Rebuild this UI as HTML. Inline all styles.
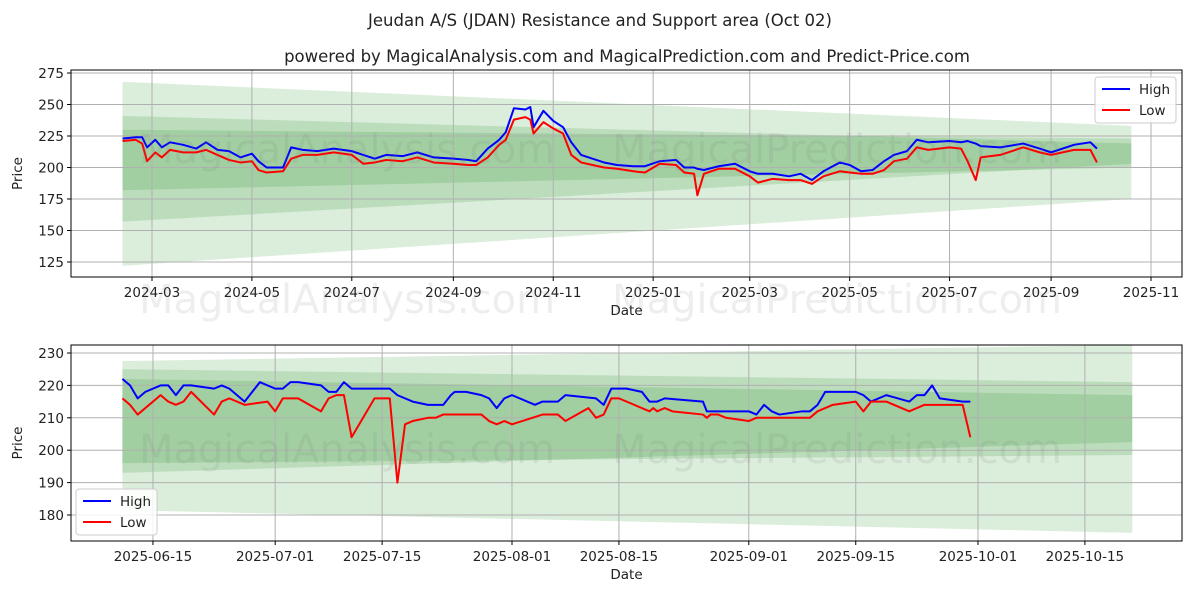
<!DOCTYPE html>
<html><head><meta charset="utf-8"><style>
body{margin:0;background:#fff}
text{font-family:"DejaVu Sans","Liberation Sans",sans-serif}
</style></head><body>
<svg id="chart" width="1200" height="600" xmlns="http://www.w3.org/2000/svg"></svg>
<script>
// ---- top chart data ----
const topDates=["2024-02-12","2024-02-20","2024-02-24","2024-02-27","2024-03-03","2024-03-07","2024-03-12","2024-03-20","2024-03-28","2024-04-03","2024-04-10","2024-04-17","2024-04-24","2024-05-01","2024-05-05","2024-05-10","2024-05-20","2024-05-25","2024-06-01","2024-06-10","2024-06-20","2024-07-01","2024-07-08","2024-07-15","2024-07-22","2024-08-01","2024-08-10","2024-08-20","2024-09-01","2024-09-10","2024-09-15","2024-09-22","2024-09-29","2024-10-03","2024-10-08","2024-10-15","2024-10-18","2024-10-20","2024-10-26","2024-11-01","2024-11-07","2024-11-12","2024-11-18","2024-11-25","2024-12-02","2024-12-10","2024-12-20","2024-12-27","2025-01-05","2025-01-15","2025-01-20","2025-01-26","2025-01-28","2025-02-01","2025-02-10","2025-02-20","2025-03-01","2025-03-06","2025-03-15","2025-03-25","2025-04-01","2025-04-08","2025-04-15","2025-04-25","2025-05-01","2025-05-08","2025-05-15","2025-05-22","2025-05-28","2025-06-05","2025-06-11","2025-06-18","2025-07-01","2025-07-08","2025-07-12","2025-07-17","2025-07-20","2025-08-01","2025-08-15","2025-08-25","2025-09-01","2025-09-15","2025-09-25","2025-09-29"];
const topHigh=[223,224,224,216,222,216,220,218,215,220,214,213,208,211,205,200,200,216,214,213,215,213,210,207,210,209,212,208,207,206,205,215,222,228,247,246,248,232,245,237,232,220,210,207,204,202,201,201,205,206,200,200,199,198,201,203,197,195,195,193,195,190,197,204,202,197,198,205,210,213,222,220,221,220,221,219,217,216,219,215,212,218,220,215];
const topLow=[221,222,219,205,212,208,214,212,212,214,210,206,204,205,198,196,197,207,210,210,212,210,203,204,206,205,208,204,203,202,202,208,218,222,238,240,238,227,236,231,227,210,204,202,200,199,197,196,203,202,196,195,178,195,199,199,193,188,191,190,190,187,193,197,196,195,195,198,205,207,216,214,216,215,205,190,208,210,216,212,210,214,214,204];
const topTicks=[125,150,175,200,225,250,275];
const topXTicks=["2024-03","2024-05","2024-07","2024-09","2024-11","2025-01","2025-03","2025-05","2025-07","2025-09","2025-11"];
const topBandStart="2024-02-12", topBandEnd="2025-10-20";
const topBands=[[268,122,233,175],[241,157,219,203],[230,182,223,200]];
// ---- bottom chart data ----
const botStart="2025-06-11";
const botHighDays=[0,1,2,3,5,6,7,8,9,12,13,14,15,16,18,20,21,22,23,26,27,28,29,30,35,36,37,38,40,42,43,43.5,45,47,48,49,50,51,54,55,57,58,62,63,64,66,68,69,70,71,76,76.5,82,83,84,85,86,89,90,91,92,96,97,98,100,103,104,105,106,107,110,111];
const botHigh=[222,220,216,218,220,220,217,220,220,219,220,219,217,215,221,219,219,221,221,220,218,218,221,219,219,217,216,215,214,214,217,218,218,217,216,213,216,217,214,215,215,217,216,214,219,219,218,215,215,216,215,212,212,211,214,212,211,212,212,214,218,218,217,215,217,215,217,217,220,216,215,215];
const botLowDays=[0,1,2,5,6,7,8,9,12,13,14,16,19,20,21,23,26,27,28,29,30,33,35,36,37,38,40,41,42,47,48,49,50,51,55,57,58,61,62,63,64,65,69,69.5,70,71,72,76,76.5,77,78,79,82,83,90,91,93,96,97,98,100,103,105,110,111];
const botLow=[216,214,211,217,215,214,215,218,211,215,216,214,215,212,216,216,212,216,217,217,204,216,216,190,208,209,210,210,211,211,209,208,209,208,211,211,209,213,210,211,216,216,212,213,212,213,212,211,210,211,211,210,209,210,210,212,214,215,212,215,215,212,214,214,204];
const botTicks=[180,190,200,210,220,230];
const botXTicks=["2025-06-15","2025-07-01","2025-07-15","2025-08-01","2025-08-15","2025-09-01","2025-09-15","2025-10-01","2025-10-15"];
const botBandEndDays=132.2;
const botBands=[[227.5,181.5,232.5,174.5],[222,193,217,202.5],[225,196,221,198.5]];

const NS="http://www.w3.org/2000/svg", svg=document.getElementById('chart');
function mk(tag,attrs,parent){const e=document.createElementNS(NS,tag);for(const k in attrs)e.setAttribute(k,attrs[k]);(parent||svg).appendChild(e);return e;}
const day=s=>Date.parse(s+"T00:00:00Z")/864e5;

function txt(x,y,s,size,anchor,name,extra){const t=mk('text',Object.assign({x:x,y:y,'font-size':size,'text-anchor':anchor||'middle',fill:'#222'},extra||{}));t.textContent=s;


return t;}

txt(600,26,"Jeudan A/S (JDAN) Resistance and Support area (Oct 02)",16.5,'middle','chart-title');
txt(627,62,"powered by MagicalAnalysis.com and MagicalPrediction.com and Predict-Price.com",16.5,'middle','chart-subtitle');

function panel(o){
  const g=mk('g',{});
  
  
  const X=o.X,Y=o.Y;
  o.bands.forEach(b=>{const p=mk('polygon',{points:`${X(o.b0)},${Y(b[0])} ${X(o.b1)},${Y(b[2])} ${X(o.b1)},${Y(b[3])} ${X(o.b0)},${Y(b[1])}`,fill:'rgba(0,128,0,0.14)'},g);
    
    });
  o.yt.forEach(v=>{const y=Y(v);mk('line',{x1:o.l,x2:o.r,y1:y,y2:y,stroke:'#b0b0b0','stroke-width':1},g);
    mk('line',{x1:o.l-4,x2:o.l,y1:y,y2:y,stroke:'#000'},g);
    txt(o.l-7,y+5,String(v),13.5,'end','y-tick-label');});
  o.xt.forEach((s,i)=>{const x=o.xv[i];mk('line',{x1:x,x2:x,y1:o.t,y2:o.b,stroke:'#b0b0b0','stroke-width':1},g);
    mk('line',{x1:x,x2:x,y1:o.b,y2:o.b+4,stroke:'#000'},g);
    txt(x,o.b+20,s,13.5,'middle','x-tick-label');});
  o.wm.forEach(w=>{txt(w[0],w[1],w[2],40,'middle','watermark',{fill:'rgba(120,120,120,0.13)'});});
  const line=(xs,ys,c,n)=>{const p=mk('polyline',{points:xs.map((x,i)=>X(x)+','+Y(ys[i])).join(' '),fill:'none',stroke:c,'stroke-width':2,'stroke-linejoin':'round'},g);
    };
  line(o.hx,o.hy,'#0000ff','high-line');line(o.lx,o.ly,'#ff0000','low-line');
  mk('rect',{x:o.l,y:o.t,width:o.r-o.l,height:o.b-o.t,fill:'none',stroke:'#000','stroke-width':1},g);
  txt((o.l+o.r)/2,o.b+38,'Date',13.5,'middle','x-axis-title');
  txt(0,0,'Price',13.5,'middle','y-axis-title',{transform:`translate(${o.l-49},${(o.t+o.b)/2}) rotate(-90)`});
  const lg=mk('g',{},g);
  const [lx,ly]=o.leg;
  mk('rect',{x:lx,y:ly,width:81,height:46,rx:3,fill:'rgba(255,255,255,0.85)',stroke:'#ccc'},lg);
  mk('line',{x1:lx+7,x2:lx+35,y1:ly+12,y2:ly+12,stroke:'#0000ff','stroke-width':2},lg);
  mk('line',{x1:lx+7,x2:lx+35,y1:ly+33,y2:ly+33,stroke:'#ff0000','stroke-width':2},lg);
  txt(lx+44,ly+17,'High',13.5,'start','legend-high');txt(lx+44,ly+38,'Low',13.5,'start','legend-low');
}
const tX0=day("2024-03-01"),tXk=999/(day("2025-11-01")-tX0);
const tX=d=>152+((typeof d==='string'?day(d):d)-tX0)*tXk;
const tY=v=>73+(275-v)*31.5/25;
panel({name:'top-panel',l:71,r:1182,t:70,b:277,X:tX,Y:tY,yt:topTicks,xt:topXTicks,xv:topXTicks.map(s=>tX(s+"-01")),
  bands:topBands,b0:topBandStart,b1:topBandEnd,hx:topDates,hy:topHigh,lx:topDates,ly:topLow,leg:[1095,77],
  wm:[[347,163,'MagicalAnalysis.com'],[837,163,'MagicalPrediction.com'],[347,313,'MagicalAnalysis.com'],[837,313,'MagicalPrediction.com']]});
const bX=d=>122.4+(typeof d==='string'?day(d)-day(botStart):d)*7.639;
const bY=v=>353+(230-v)*3.24;
panel({name:'bottom-panel',l:71,r:1182,t:345,b:541,X:bX,Y:bY,yt:botTicks,xt:botXTicks,xv:botXTicks.map(s=>bX(s)),
  bands:botBands,b0:0,b1:botBandEndDays,hx:botHighDays,hy:botHigh,lx:botLowDays,ly:botLow,leg:[76,489],
  wm:[[347,463,'MagicalAnalysis.com'],[837,463,'MagicalPrediction.com']]});
</script>
</body></html>
